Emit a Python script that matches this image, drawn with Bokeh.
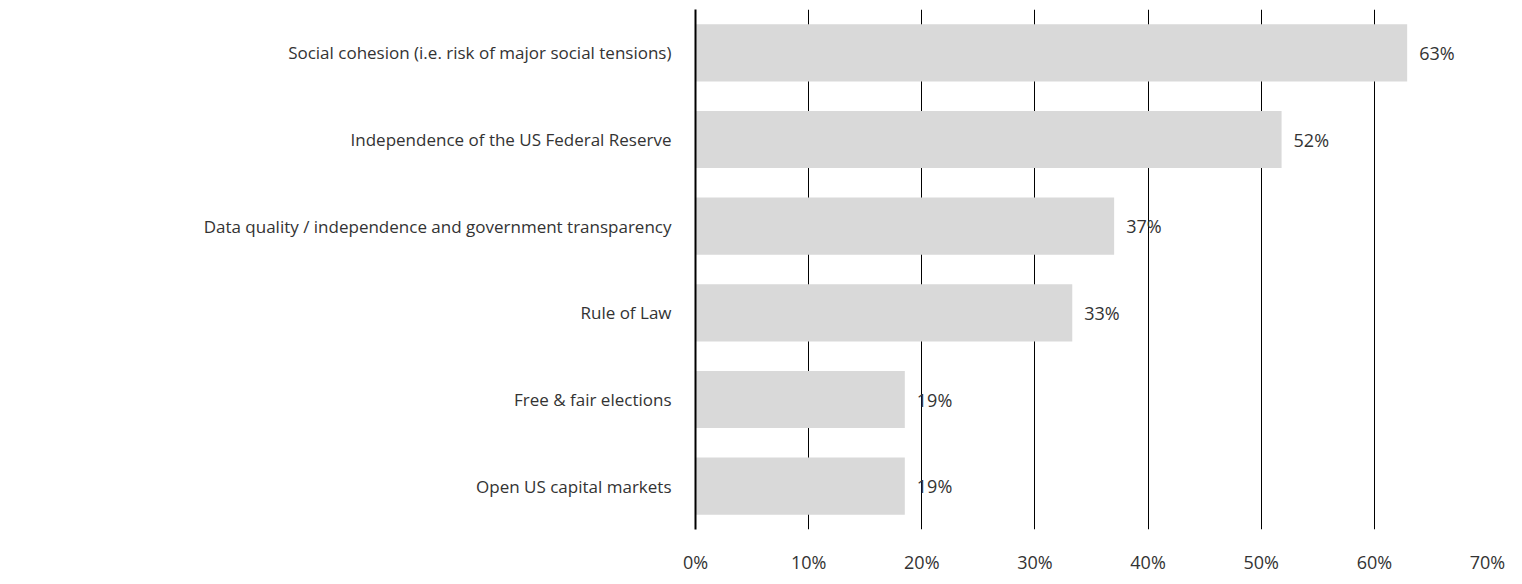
from bokeh.plotting import figure
from bokeh.models import ColumnDataSource, FactorRange, PrintfTickFormatter, FixedTicker
from bokeh.core.properties import value
from bokeh.embed import file_html
from bokeh.resources import INLINE

categories = ["Social cohesion (i.e. risk of major social tensions)",
              "Independence of the US Federal Reserve",
              "Data quality / independence and government transparency",
              "Rule of Law", "Free & fair elections", "Open US capital markets"]
values = [62.9, 51.8, 37.0, 33.3, 18.5, 18.5]
labels = ["63%", "52%", "37%", "33%", "19%", "19%"]
ticks = [0, 10, 20, 30, 40, 50, 60, 70]

FONT = "Open Sans"
src = ColumnDataSource(dict(cat=categories, val=values, lab=labels))

p = figure(width=1506, height=576, output_backend="svg", toolbar_location=None,
           y_range=FactorRange(*categories[::-1], range_padding=0),
           x_range=(0, 70), min_border_left=695, min_border_right=19,
           min_border_top=9, min_border_bottom=32)
p.outline_line_color = None
p.hbar(y="cat", right="val", height=0.66, source=src, color="#d9d9d9", line_color=None)
p.text(x="val", y="cat", text="lab", source=src, x_offset=12, text_baseline="middle",
       text_font=value(FONT), text_font_size="18px", text_color="#333333")

p.xgrid.ticker = FixedTicker(ticks=ticks)
p.xgrid.grid_line_color = "black"
p.xgrid.grid_line_width = 1
p.ygrid.grid_line_color = None
p.xaxis.ticker = FixedTicker(ticks=ticks)
p.xaxis.formatter = PrintfTickFormatter(format="%d%%")
p.xaxis.axis_line_color = None
p.xaxis.major_tick_line_color = None
p.xaxis.minor_tick_line_color = None
p.xaxis.major_label_text_font = FONT
p.xaxis.major_label_text_font_size = "18px"
p.xaxis.major_label_text_color = "#333333"
p.xaxis.major_label_standoff = 14
p.yaxis.axis_line_color = "black"
p.yaxis.axis_line_width = 2
p.yaxis.major_tick_line_color = None
p.yaxis.minor_tick_line_color = None
p.yaxis.major_label_text_font = FONT
p.yaxis.major_label_text_font_size = "17px"
p.yaxis.major_label_text_color = "#333333"
p.yaxis.major_label_standoff = 18

open("out.html", "w").write(file_html(p, INLINE))
